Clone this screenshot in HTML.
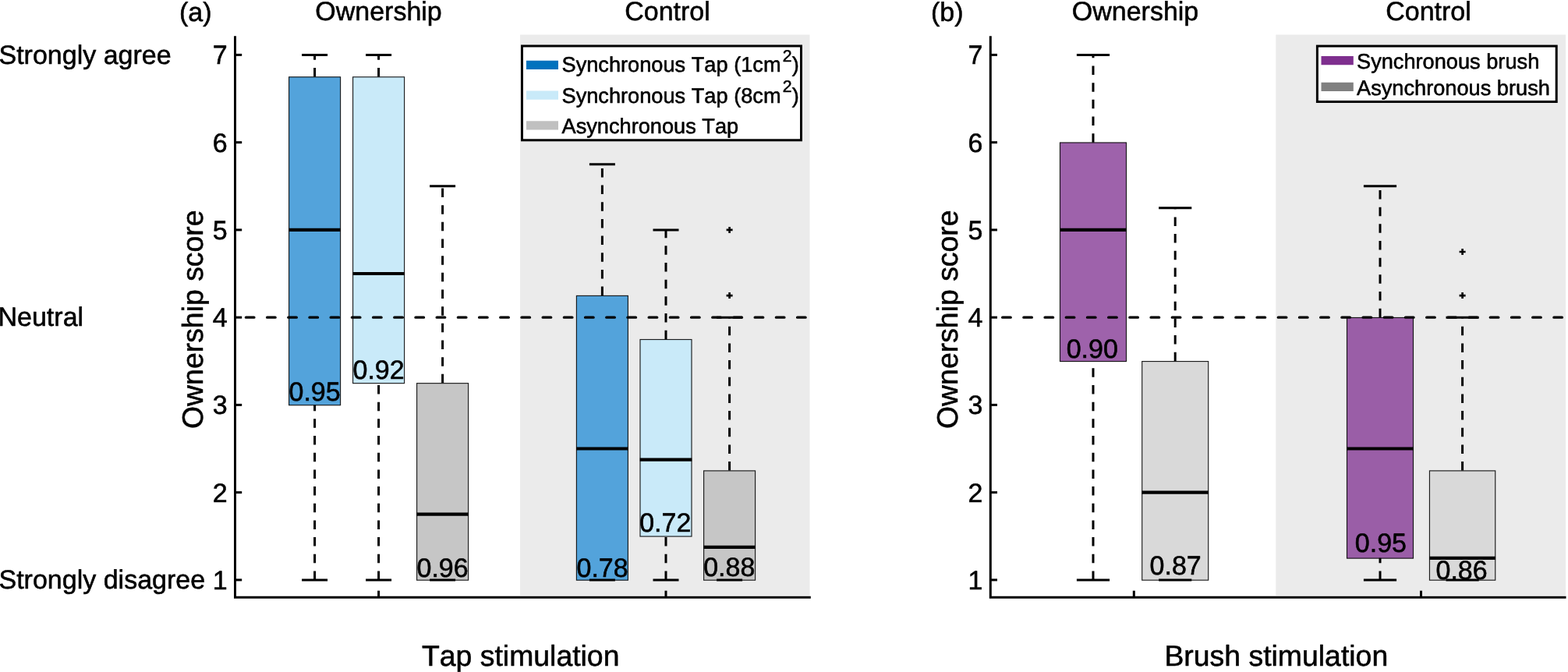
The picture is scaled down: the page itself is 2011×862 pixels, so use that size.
<!DOCTYPE html>
<html lang="en">
<head>
<meta charset="utf-8">
<title>Ownership score boxplots</title>
<style>
html,body{margin:0;padding:0;background:#fff;}
body{width:2011px;height:862px;overflow:hidden;}
svg{display:block;}
text{font-family:"Liberation Sans", sans-serif;fill:#000;stroke:#000;stroke-width:0.55px;stroke-linejoin:round;font-kerning:none;text-rendering:geometricPrecision;}
</style>
</head>
<body>
<svg width="2011" height="862" viewBox="0 0 2011 862">
<rect x="0" y="0" width="2011" height="862" fill="#fff"/>
<g id="panel-a">
<rect x="667" y="44.5" width="371.5" height="719.3" fill="#ebebeb"/>
<rect x="370.60" y="98.76" width="66.00" height="420.94" fill="#53a3db" stroke="#000" stroke-opacity="0.88" stroke-width="1.15"/>
<line x1="403.60" y1="98.46" x2="403.60" y2="70.40" stroke="#000" stroke-width="3" stroke-dasharray="11.5 10.17"/>
<line x1="403.60" y1="743.90" x2="403.60" y2="519.40" stroke="#000" stroke-width="3" stroke-dasharray="11.5 10.17"/>
<line x1="387.10" y1="70.40" x2="420.10" y2="70.40" stroke="#000" stroke-width="3"/>
<line x1="387.10" y1="743.90" x2="420.10" y2="743.90" stroke="#000" stroke-width="3"/>
<line x1="370.30" y1="294.90" x2="436.90" y2="294.90" stroke="#000" stroke-width="4.2"/>
<rect x="452.60" y="98.76" width="66.00" height="392.88" fill="#c9eaf9" stroke="#000" stroke-opacity="0.88" stroke-width="1.15"/>
<line x1="485.60" y1="98.46" x2="485.60" y2="70.40" stroke="#000" stroke-width="3" stroke-dasharray="11.5 10.17"/>
<line x1="485.60" y1="743.90" x2="485.60" y2="491.34" stroke="#000" stroke-width="3" stroke-dasharray="11.5 10.17"/>
<line x1="469.10" y1="70.40" x2="502.10" y2="70.40" stroke="#000" stroke-width="3"/>
<line x1="469.10" y1="743.90" x2="502.10" y2="743.90" stroke="#000" stroke-width="3"/>
<line x1="452.30" y1="351.02" x2="518.90" y2="351.02" stroke="#000" stroke-width="4.2"/>
<rect x="534.60" y="491.64" width="66.00" height="252.56" fill="#c6c6c6" stroke="#000" stroke-opacity="0.88" stroke-width="1.15"/>
<line x1="567.60" y1="491.34" x2="567.60" y2="238.77" stroke="#000" stroke-width="3" stroke-dasharray="11.5 10.17"/>
<line x1="551.10" y1="238.77" x2="584.10" y2="238.77" stroke="#000" stroke-width="3"/>
<line x1="551.10" y1="743.90" x2="584.10" y2="743.90" stroke="#000" stroke-width="3"/>
<line x1="534.30" y1="659.71" x2="600.90" y2="659.71" stroke="#000" stroke-width="4.2"/>
<rect x="739.40" y="379.39" width="66.00" height="364.81" fill="#53a3db" stroke="#000" stroke-opacity="0.88" stroke-width="1.15"/>
<line x1="772.40" y1="379.09" x2="772.40" y2="210.71" stroke="#000" stroke-width="3" stroke-dasharray="11.5 10.17"/>
<line x1="755.90" y1="210.71" x2="788.90" y2="210.71" stroke="#000" stroke-width="3"/>
<line x1="755.90" y1="743.90" x2="788.90" y2="743.90" stroke="#000" stroke-width="3"/>
<line x1="739.10" y1="575.52" x2="805.70" y2="575.52" stroke="#000" stroke-width="4.2"/>
<rect x="821.00" y="435.51" width="66.00" height="252.56" fill="#c9eaf9" stroke="#000" stroke-opacity="0.88" stroke-width="1.15"/>
<line x1="854.00" y1="435.21" x2="854.00" y2="294.90" stroke="#000" stroke-width="3" stroke-dasharray="11.5 10.17"/>
<line x1="854.00" y1="743.90" x2="854.00" y2="687.77" stroke="#000" stroke-width="3" stroke-dasharray="11.5 10.17"/>
<line x1="837.50" y1="294.90" x2="870.50" y2="294.90" stroke="#000" stroke-width="3"/>
<line x1="837.50" y1="743.90" x2="870.50" y2="743.90" stroke="#000" stroke-width="3"/>
<line x1="820.70" y1="589.56" x2="887.30" y2="589.56" stroke="#000" stroke-width="4.2"/>
<rect x="902.60" y="603.89" width="66.00" height="140.31" fill="#c6c6c6" stroke="#000" stroke-opacity="0.88" stroke-width="1.15"/>
<line x1="935.60" y1="603.59" x2="935.60" y2="407.15" stroke="#000" stroke-width="3" stroke-dasharray="11.5 10.17"/>
<line x1="919.10" y1="407.15" x2="952.10" y2="407.15" stroke="#000" stroke-width="3"/>
<line x1="919.10" y1="743.90" x2="952.10" y2="743.90" stroke="#000" stroke-width="3"/>
<line x1="902.30" y1="701.81" x2="968.90" y2="701.81" stroke="#000" stroke-width="4.2"/>
<path d="M931.60 379.09H939.60M935.60 375.09V383.09" stroke="#000" stroke-width="2.6" fill="none"/>
<path d="M931.60 294.90H939.60M935.60 290.90V298.90" stroke="#000" stroke-width="2.6" fill="none"/>
<line x1="315.40" y1="407.15" x2="1039.80" y2="407.15" stroke="#000" stroke-width="3.4" stroke-linecap="round" stroke-dasharray="10.50 16.70"/>
<path d="M301.50 46.2V766.3H1039.80" fill="none" stroke="#000" stroke-width="3" stroke-linejoin="miter"/>
<line x1="301.50" y1="743.90" x2="310.20" y2="743.90" stroke="#000" stroke-width="3"/>
<text x="291.70" y="755.80" font-size="34" text-anchor="end">1</text>
<line x1="301.50" y1="631.65" x2="310.20" y2="631.65" stroke="#000" stroke-width="3"/>
<text x="291.70" y="643.55" font-size="34" text-anchor="end">2</text>
<line x1="301.50" y1="519.40" x2="310.20" y2="519.40" stroke="#000" stroke-width="3"/>
<text x="291.70" y="531.30" font-size="34" text-anchor="end">3</text>
<line x1="301.50" y1="407.15" x2="310.20" y2="407.15" stroke="#000" stroke-width="3"/>
<text x="291.70" y="419.05" font-size="34" text-anchor="end">4</text>
<line x1="301.50" y1="294.90" x2="310.20" y2="294.90" stroke="#000" stroke-width="3"/>
<text x="291.70" y="306.80" font-size="34" text-anchor="end">5</text>
<line x1="301.50" y1="182.65" x2="310.20" y2="182.65" stroke="#000" stroke-width="3"/>
<text x="291.70" y="194.55" font-size="34" text-anchor="end">6</text>
<line x1="301.50" y1="70.40" x2="310.20" y2="70.40" stroke="#000" stroke-width="3"/>
<text x="291.70" y="82.30" font-size="34" text-anchor="end">7</text>
<line x1="485.60" y1="766.3" x2="485.60" y2="757.70" stroke="#000" stroke-width="3"/>
<line x1="854.00" y1="766.3" x2="854.00" y2="757.70" stroke="#000" stroke-width="3"/>
<text x="403.60" y="514.30" font-size="34" text-anchor="middle">0.95</text>
<text x="485.60" y="485.90" font-size="34" text-anchor="middle">0.92</text>
<text x="567.60" y="739.90" font-size="34" text-anchor="middle">0.96</text>
<text x="772.60" y="739.70" font-size="34" text-anchor="middle">0.78</text>
<text x="853.30" y="682.30" font-size="34" text-anchor="middle">0.72</text>
<text x="935.30" y="738.70" font-size="34" text-anchor="middle">0.88</text>
<rect x="669.5" y="59" width="358" height="120.8" fill="#fff" stroke="#000" stroke-width="3"/>
<line x1="675" y1="83.3" x2="716" y2="83.3" stroke="#0072bd" stroke-width="11.2"/>
<text x="720.5" y="92.4" font-size="27.2">Synchronous Tap (1cm<tspan dx="2.1" dy="-13.6" font-size="21.2">2</tspan><tspan dx="0.3" dy="13.6">)</tspan></text>
<line x1="675" y1="122.1" x2="716" y2="122.1" stroke="#c9eaf9" stroke-width="11.2"/>
<text x="720.5" y="131.5" font-size="27.2">Synchronous Tap (8cm<tspan dx="2.1" dy="-13.6" font-size="21.2">2</tspan><tspan dx="0.3" dy="13.6">)</tspan></text>
<line x1="675" y1="160.9" x2="716" y2="160.9" stroke="#c0c0c0" stroke-width="11.2"/>
<text x="720.5" y="170.6" font-size="27.2">Asynchronous Tap</text>
<text x="230" y="26.7" font-size="34">(a)</text>
<text x="485.5" y="25.5" font-size="34" text-anchor="middle">Ownership</text>
<text x="856" y="25.5" font-size="34" text-anchor="middle">Control</text>
<text x="-1.5" y="82.4" font-size="34">Strongly agree</text>
<text x="-2.5" y="418.3" font-size="34">Neutral</text>
<text x="-1.5" y="755.3" font-size="34">Strongly disagree</text>
<text transform="translate(259.8,409.7) rotate(-90)" font-size="37.4" text-anchor="middle">Ownership score</text>
<text x="667.7" y="854" font-size="37.4" text-anchor="middle">Tap stimulation</text>
</g>
<g id="panel-b">
<rect x="1636.3" y="44.5" width="371.70000000000005" height="719.3" fill="#ebebeb"/>
<rect x="1359.50" y="182.95" width="85.00" height="280.62" fill="#9e62ab" stroke="#000" stroke-opacity="0.88" stroke-width="1.15"/>
<line x1="1402.00" y1="182.65" x2="1402.00" y2="70.40" stroke="#000" stroke-width="3" stroke-dasharray="11.5 10.17"/>
<line x1="1402.00" y1="743.90" x2="1402.00" y2="463.27" stroke="#000" stroke-width="3" stroke-dasharray="11.5 10.17"/>
<line x1="1380.90" y1="70.40" x2="1423.10" y2="70.40" stroke="#000" stroke-width="3"/>
<line x1="1380.90" y1="743.90" x2="1423.10" y2="743.90" stroke="#000" stroke-width="3"/>
<line x1="1359.20" y1="294.90" x2="1444.80" y2="294.90" stroke="#000" stroke-width="4.2"/>
<rect x="1464.70" y="463.57" width="85.00" height="280.62" fill="#d9d9d9" stroke="#000" stroke-opacity="0.88" stroke-width="1.15"/>
<line x1="1507.20" y1="463.27" x2="1507.20" y2="266.84" stroke="#000" stroke-width="3" stroke-dasharray="11.5 10.17"/>
<line x1="1486.10" y1="266.84" x2="1528.30" y2="266.84" stroke="#000" stroke-width="3"/>
<line x1="1486.10" y1="743.90" x2="1528.30" y2="743.90" stroke="#000" stroke-width="3"/>
<line x1="1464.40" y1="631.65" x2="1550.00" y2="631.65" stroke="#000" stroke-width="4.2"/>
<rect x="1727.50" y="407.45" width="85.00" height="308.69" fill="#9a5ea7" stroke="#000" stroke-opacity="0.88" stroke-width="1.15"/>
<line x1="1770.00" y1="407.15" x2="1770.00" y2="238.77" stroke="#000" stroke-width="3" stroke-dasharray="11.5 10.17"/>
<line x1="1770.00" y1="743.90" x2="1770.00" y2="715.84" stroke="#000" stroke-width="3" stroke-dasharray="11.5 10.17"/>
<line x1="1748.90" y1="238.77" x2="1791.10" y2="238.77" stroke="#000" stroke-width="3"/>
<line x1="1748.90" y1="743.90" x2="1791.10" y2="743.90" stroke="#000" stroke-width="3"/>
<line x1="1727.20" y1="575.52" x2="1812.80" y2="575.52" stroke="#000" stroke-width="4.2"/>
<rect x="1833.45" y="603.89" width="84.30" height="140.31" fill="#d9d9d9" stroke="#000" stroke-opacity="0.88" stroke-width="1.15"/>
<line x1="1875.60" y1="603.59" x2="1875.60" y2="407.15" stroke="#000" stroke-width="3" stroke-dasharray="11.5 10.17"/>
<line x1="1854.50" y1="407.15" x2="1896.70" y2="407.15" stroke="#000" stroke-width="3"/>
<line x1="1854.50" y1="743.90" x2="1896.70" y2="743.90" stroke="#000" stroke-width="3"/>
<line x1="1833.15" y1="715.84" x2="1918.05" y2="715.84" stroke="#000" stroke-width="4.2"/>
<path d="M1871.60 379.09H1879.60M1875.60 375.09V383.09" stroke="#000" stroke-width="2.6" fill="none"/>
<path d="M1871.60 322.96H1879.60M1875.60 318.96V326.96" stroke="#000" stroke-width="2.6" fill="none"/>
<line x1="1285.70" y1="407.15" x2="2008.50" y2="407.15" stroke="#000" stroke-width="3.4" stroke-linecap="round" stroke-dasharray="10.50 16.70"/>
<path d="M1270.30 46.2V766.3H2008.50" fill="none" stroke="#000" stroke-width="3" stroke-linejoin="miter"/>
<line x1="1270.30" y1="743.90" x2="1279.00" y2="743.90" stroke="#000" stroke-width="3"/>
<text x="1260.50" y="755.80" font-size="34" text-anchor="end">1</text>
<line x1="1270.30" y1="631.65" x2="1279.00" y2="631.65" stroke="#000" stroke-width="3"/>
<text x="1260.50" y="643.55" font-size="34" text-anchor="end">2</text>
<line x1="1270.30" y1="519.40" x2="1279.00" y2="519.40" stroke="#000" stroke-width="3"/>
<text x="1260.50" y="531.30" font-size="34" text-anchor="end">3</text>
<line x1="1270.30" y1="407.15" x2="1279.00" y2="407.15" stroke="#000" stroke-width="3"/>
<text x="1260.50" y="419.05" font-size="34" text-anchor="end">4</text>
<line x1="1270.30" y1="294.90" x2="1279.00" y2="294.90" stroke="#000" stroke-width="3"/>
<text x="1260.50" y="306.80" font-size="34" text-anchor="end">5</text>
<line x1="1270.30" y1="182.65" x2="1279.00" y2="182.65" stroke="#000" stroke-width="3"/>
<text x="1260.50" y="194.55" font-size="34" text-anchor="end">6</text>
<line x1="1270.30" y1="70.40" x2="1279.00" y2="70.40" stroke="#000" stroke-width="3"/>
<text x="1260.50" y="82.30" font-size="34" text-anchor="end">7</text>
<line x1="1454.30" y1="766.3" x2="1454.30" y2="757.70" stroke="#000" stroke-width="3"/>
<line x1="1822.50" y1="766.3" x2="1822.50" y2="757.70" stroke="#000" stroke-width="3"/>
<text x="1400.80" y="458.80" font-size="34" text-anchor="middle">0.90</text>
<text x="1507.70" y="736.50" font-size="34" text-anchor="middle">0.87</text>
<text x="1770.90" y="707.60" font-size="34" text-anchor="middle">0.95</text>
<text x="1874.60" y="742.90" font-size="34" text-anchor="middle">0.86</text>
<rect x="1689.4" y="59.1" width="306.8" height="71.4" fill="#fff" stroke="#000" stroke-width="3"/>
<line x1="1694.5" y1="77.7" x2="1735.8" y2="77.7" stroke="#7e2f8e" stroke-width="11.2"/>
<text x="1740" y="88.0" font-size="27.2">Synchronous brush</text>
<line x1="1694.5" y1="111.3" x2="1735.8" y2="111.3" stroke="#808080" stroke-width="11.2"/>
<text x="1740" y="121.9" font-size="27.2">Asynchronous brush</text>
<text x="1194" y="26.9" font-size="34">(b)</text>
<text x="1456" y="25.5" font-size="34" text-anchor="middle">Ownership</text>
<text x="1832" y="25.5" font-size="34" text-anchor="middle">Control</text>
<text transform="translate(1228.4,409.7) rotate(-90)" font-size="37.4" text-anchor="middle">Ownership score</text>
<text x="1636.8" y="854" font-size="37.4" text-anchor="middle">Brush stimulation</text>
</g>
</svg>
</body>
</html>
